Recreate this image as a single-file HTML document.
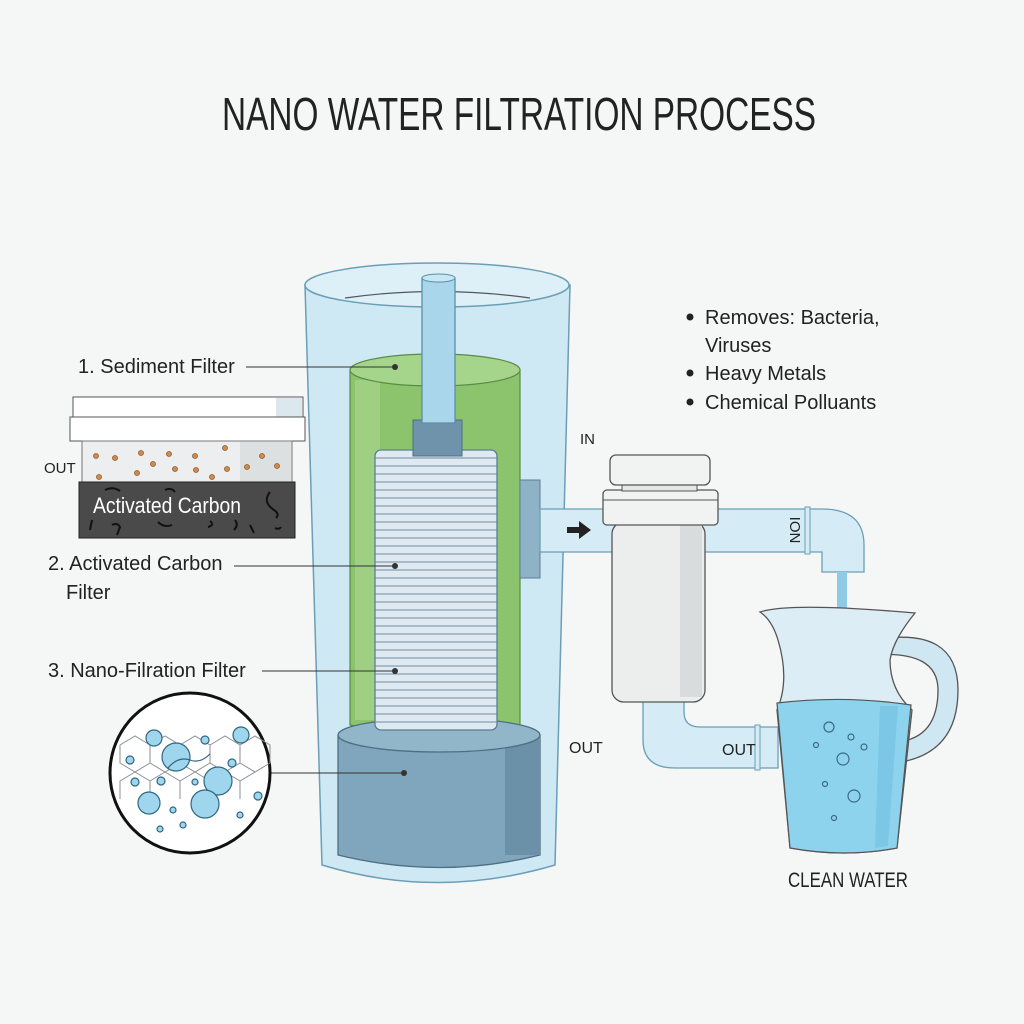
<!DOCTYPE html>
<html><head><meta charset="utf-8"><style>
html,body{margin:0;padding:0;background:#f5f6f6;}
svg{display:block}
text{font-family:"Liberation Sans Narrow","Liberation Sans",sans-serif;fill:#222}
</style></head><body>
<svg width="1024" height="1024" viewBox="0 0 1024 1024" xmlns="http://www.w3.org/2000/svg">
<rect width="1024" height="1024" fill="#f5f6f6"/>
<text x="519" y="130" font-size="46" text-anchor="middle" textLength="594" lengthAdjust="spacingAndGlyphs">NANO WATER FILTRATION PROCESS</text>

<!-- main outer cylinder -->
<path d="M305 285 L322 865 Q437 900 555 865 L570 285 Z" fill="#cfe9f4" stroke="#6a9fb5" stroke-width="1.5"/>
<ellipse cx="437" cy="285" rx="132" ry="22" fill="#ddf0f8" stroke="#6a9fb5" stroke-width="1.5"/>
<path d="M345 298 Q437 285 530 298" fill="none" stroke="#555" stroke-width="1.2"/>
<!-- green cylinder -->
<path d="M350 370 L350 725 Q435 745 520 725 L520 370 Z" fill="#8cc46e" stroke="#5a8a45" stroke-width="1.2"/>
<rect x="355" y="380" width="25" height="340" fill="#a6d48a" opacity="0.7"/>
<ellipse cx="435" cy="370" rx="85" ry="16" fill="#a5d48b" stroke="#5a8a45" stroke-width="1.2"/>
<!-- base -->
<path d="M338 735 L338 855 Q440 880 540 855 L540 735 Z" fill="#7fa6bc" stroke="#4d6f82" stroke-width="1.3"/>
<rect x="505" y="735" width="35" height="120" fill="#6b91a8"/>
<ellipse cx="439" cy="735" rx="101" ry="17" fill="#92b6c9" stroke="#4d6f82" stroke-width="1.3"/>
<!-- disk stack -->
<rect x="375" y="450" width="122" height="280" rx="6" fill="#dfe9f1" stroke="#5b7d95" stroke-width="1.3"/>
<g stroke="#6d8ca3" stroke-width="1.1">
<line x1="375" y1="458" x2="497" y2="458"/><line x1="375" y1="466" x2="497" y2="466"/><line x1="375" y1="474" x2="497" y2="474"/><line x1="375" y1="482" x2="497" y2="482"/><line x1="375" y1="490" x2="497" y2="490"/><line x1="375" y1="498" x2="497" y2="498"/><line x1="375" y1="506" x2="497" y2="506"/><line x1="375" y1="514" x2="497" y2="514"/><line x1="375" y1="522" x2="497" y2="522"/><line x1="375" y1="530" x2="497" y2="530"/><line x1="375" y1="538" x2="497" y2="538"/><line x1="375" y1="546" x2="497" y2="546"/><line x1="375" y1="554" x2="497" y2="554"/><line x1="375" y1="562" x2="497" y2="562"/><line x1="375" y1="570" x2="497" y2="570"/><line x1="375" y1="578" x2="497" y2="578"/><line x1="375" y1="586" x2="497" y2="586"/><line x1="375" y1="594" x2="497" y2="594"/><line x1="375" y1="602" x2="497" y2="602"/><line x1="375" y1="610" x2="497" y2="610"/><line x1="375" y1="618" x2="497" y2="618"/><line x1="375" y1="626" x2="497" y2="626"/><line x1="375" y1="634" x2="497" y2="634"/><line x1="375" y1="642" x2="497" y2="642"/><line x1="375" y1="650" x2="497" y2="650"/><line x1="375" y1="658" x2="497" y2="658"/><line x1="375" y1="666" x2="497" y2="666"/><line x1="375" y1="674" x2="497" y2="674"/><line x1="375" y1="682" x2="497" y2="682"/><line x1="375" y1="690" x2="497" y2="690"/><line x1="375" y1="698" x2="497" y2="698"/><line x1="375" y1="706" x2="497" y2="706"/><line x1="375" y1="714" x2="497" y2="714"/><line x1="375" y1="722" x2="497" y2="722"/>
</g>
<!-- connector + pipe -->
<rect x="413" y="420" width="49" height="36" fill="#6f93ab" stroke="#4d6f82"/>
<rect x="422" y="278" width="33" height="145" fill="#a9d6ea" stroke="#5a8fa8" stroke-width="1.3"/>
<ellipse cx="438.5" cy="278" rx="16.5" ry="4" fill="#c8e7f4" stroke="#5a8fa8"/>
<!-- side bracket -->
<rect x="520" y="480" width="20" height="98" fill="#8fb3c6" stroke="#5b7d95"/>

<!-- right pipe -->
<path d="M540 509 L822 509 Q864 509 864 545 L864 572 L822 572 L822 552 L540 552 Z" fill="#d5ecf6" stroke="#6a9fb5" stroke-width="1.3"/>
<rect x="805" y="507" width="5" height="47" fill="#d5ecf6" stroke="#6a9fb5"/>
<path d="M567 527 h12 v-6 l12 9 l-12 9 v-6 h-12 Z" fill="#222"/>
<text x="790" y="530" font-size="15" transform="rotate(90 790 530)" text-anchor="middle">ION</text>
<rect x="837" y="572" width="10" height="120" fill="#8fcbe6"/>
<!-- lower pipe -->
<path d="M643 700 L643 740 Q643 768 675 768 L778 768 L778 727 L700 727 Q684 727 684 712 L684 700 Z" fill="#d5ecf6" stroke="#6a9fb5" stroke-width="1.3"/>
<rect x="755" y="725" width="5" height="45" fill="#d5ecf6" stroke="#6a9fb5"/>
<text x="722" y="755" font-size="16">OUT</text>
<!-- filter housing -->
<rect x="612" y="522" width="93" height="180" rx="12" fill="#eceeee" stroke="#555" stroke-width="1.3"/>
<rect x="680" y="525" width="22" height="172" fill="#d9dcdd"/>
<rect x="603" y="490" width="115" height="35" rx="4" fill="#f1f2f2" stroke="#555" stroke-width="1.3"/>
<line x1="603" y1="500" x2="718" y2="500" stroke="#555"/>
<rect x="622" y="485" width="75" height="6" fill="#e4e6e6" stroke="#555"/>
<rect x="610" y="455" width="100" height="30" rx="6" fill="#f1f2f2" stroke="#555" stroke-width="1.3"/>
<text x="580" y="444" font-size="15">IN</text>
<text x="569" y="753" font-size="16">OUT</text>

<!-- pitcher -->
<path d="M873 640 Q958 625 958 690 Q958 755 895 763 L897 742 Q938 738 938 690 Q938 650 873 655 Z" fill="#cfe7f2" stroke="#555" stroke-width="1.3"/>
<path d="M760 612 Q790 602 915 613 Q893 640 890 660 Q890 690 912 710 L897 848 Q845 858 790 848 L777 710 Q790 680 778 640 Q772 620 760 612 Z" fill="#dcedf5" stroke="#555" stroke-width="1.3"/>
<path d="M777 703 Q845 695 911 705 L897 848 Q845 858 790 848 Z" fill="#8ed3ee" stroke="#555" stroke-width="1.2"/>
<path d="M880 706 L898 706 L888 846 L875 848 Z" fill="#7cc6e6"/>
<g fill="none" stroke="#3b6a82" stroke-width="1.2">
<circle cx="829" cy="727" r="5"/><circle cx="851" cy="737" r="3"/><circle cx="816" cy="745" r="2.5"/><circle cx="864" cy="747" r="3"/><circle cx="843" cy="759" r="6"/><circle cx="825" cy="784" r="2.5"/><circle cx="854" cy="796" r="6"/><circle cx="834" cy="818" r="2.5"/>
</g>
<text x="848" y="887" font-size="21" text-anchor="middle" textLength="120" lengthAdjust="spacingAndGlyphs">CLEAN WATER</text>

<!-- bullets -->
<g font-family="Liberation Sans" font-size="20">
<circle cx="690" cy="317" r="3.5" fill="#222"/><text x="705" y="324" style="font-family:'Liberation Sans',sans-serif">Removes: Bacteria,</text>
<text x="705" y="352" style="font-family:'Liberation Sans',sans-serif">Viruses</text>
<circle cx="690" cy="373" r="3.5" fill="#222"/><text x="705" y="380" style="font-family:'Liberation Sans',sans-serif">Heavy Metals</text>
<circle cx="690" cy="402" r="3.5" fill="#222"/><text x="705" y="409" style="font-family:'Liberation Sans',sans-serif">Chemical Polluants</text>
</g>

<!-- left labels -->
<text x="78" y="373" font-size="20">1. Sediment Filter</text>
<line x1="246" y1="367" x2="395" y2="367" stroke="#333"/>
<circle cx="395" cy="367" r="3" fill="#333"/>
<text x="48" y="570" font-size="20">2. Activated Carbon</text>
<text x="66" y="599" font-size="20">Filter</text>
<line x1="234" y1="566" x2="395" y2="566" stroke="#333"/>
<circle cx="395" cy="566" r="3" fill="#333"/>
<text x="48" y="677" font-size="20">3. Nano-Filration Filter</text>
<line x1="262" y1="671" x2="395" y2="671" stroke="#333"/>
<circle cx="395" cy="671" r="3" fill="#333"/>
<text x="44" y="473" font-size="15">OUT</text>

<!-- sediment block -->
<rect x="73" y="397" width="230" height="22" fill="#fff" stroke="#555"/>
<rect x="276" y="398" width="26" height="20" fill="#dbe9ee"/>
<rect x="70" y="417" width="235" height="24" fill="#fff" stroke="#555"/>
<rect x="82" y="441" width="210" height="42" fill="#eceeef" stroke="#777"/>
<rect x="240" y="442" width="51" height="40" fill="#dde0e1"/>
<g fill="#d28a4a" stroke="#8a5a30" stroke-width="0.8">
<circle cx="96" cy="456" r="2.5"/><circle cx="115" cy="458" r="2.5"/><circle cx="141" cy="453" r="2.5"/><circle cx="153" cy="464" r="2.5"/><circle cx="169" cy="454" r="2.5"/><circle cx="175" cy="469" r="2.5"/><circle cx="195" cy="456" r="2.5"/><circle cx="196" cy="470" r="2.5"/><circle cx="225" cy="448" r="2.5"/><circle cx="227" cy="469" r="2.5"/><circle cx="212" cy="477" r="2.5"/><circle cx="247" cy="467" r="2.5"/><circle cx="262" cy="456" r="2.5"/><circle cx="277" cy="466" r="2.5"/><circle cx="99" cy="477" r="2.5"/><circle cx="137" cy="473" r="2.5"/>
</g>
<rect x="79" y="482" width="216" height="56" fill="#4a4a4a" stroke="#222"/>
<g fill="none" stroke="#111" stroke-width="2">
<path d="M105 490 q8 -4 15 1"/><path d="M165 490 q6 -3 10 2"/><path d="M270 492 q-8 10 4 18 q6 4 2 8"/><path d="M92 520 l-2 10"/><path d="M112 525 q5 -3 8 2 l-3 8"/><path d="M158 522 q6 6 14 3"/><path d="M210 521 q5 4 -2 6"/><path d="M235 520 q4 5 -1 10"/><path d="M250 525 l4 8"/><path d="M275 528 q4 2 6 -1"/>
</g>
<text x="93" y="513" font-size="22" style="fill:#fff" textLength="148" lengthAdjust="spacingAndGlyphs">Activated Carbon</text>

<!-- nano circle -->
<line x1="265" y1="773" x2="404" y2="773" stroke="#333"/>
<circle cx="404" cy="773" r="3" fill="#333"/>
<circle cx="190" cy="773" r="80" fill="#fff" stroke="#111" stroke-width="3"/>
<g fill="none" stroke="#8a8f95" stroke-width="1">
<path d="M120 745 l15 -9 l15 9 l0 18 l-15 9 l-15 -9 Z"/><path d="M150 745 l15 -9 l15 9 l0 18 l-15 9 l-15 -9 Z"/><path d="M180 745 l15 -9 l15 9 l0 18 l-15 9 l-15 -9 Z"/><path d="M210 745 l15 -9 l15 9 l0 18 l-15 9 l-15 -9 Z"/><path d="M240 745 l15 -9 l15 9 l0 18 l-15 9 l-15 -9 Z"/>
<path d="M135 772 l15 9 l0 18 M165 772 l15 9 l0 18 M195 772 l15 9 l0 18 M225 772 l15 9 l0 18 M135 772 l-15 9 l0 18 M165 772 l-15 9 M195 772 l-15 9 M225 772 l-15 9 M255 772 l-15 9"/>
</g>
<g fill="#9fd6ee" stroke="#2f6680" stroke-width="1.2">
<circle cx="154" cy="738" r="8"/><circle cx="241" cy="735" r="8"/><circle cx="176" cy="757" r="14"/><circle cx="218" cy="781" r="14"/><circle cx="149" cy="803" r="11"/><circle cx="205" cy="804" r="14"/><circle cx="130" cy="760" r="4"/><circle cx="258" cy="796" r="4"/><circle cx="135" cy="782" r="4"/><circle cx="161" cy="781" r="4"/><circle cx="195" cy="782" r="3"/><circle cx="232" cy="763" r="4"/><circle cx="173" cy="810" r="3"/><circle cx="183" cy="825" r="3"/><circle cx="240" cy="815" r="3"/><circle cx="160" cy="829" r="3"/><circle cx="205" cy="740" r="4"/>
</g>
<path d="M168 768 q10 -12 22 -8 q10 4 20 -6" fill="none" stroke="#2f6680" stroke-width="1.2"/>
</svg>
</body></html>
